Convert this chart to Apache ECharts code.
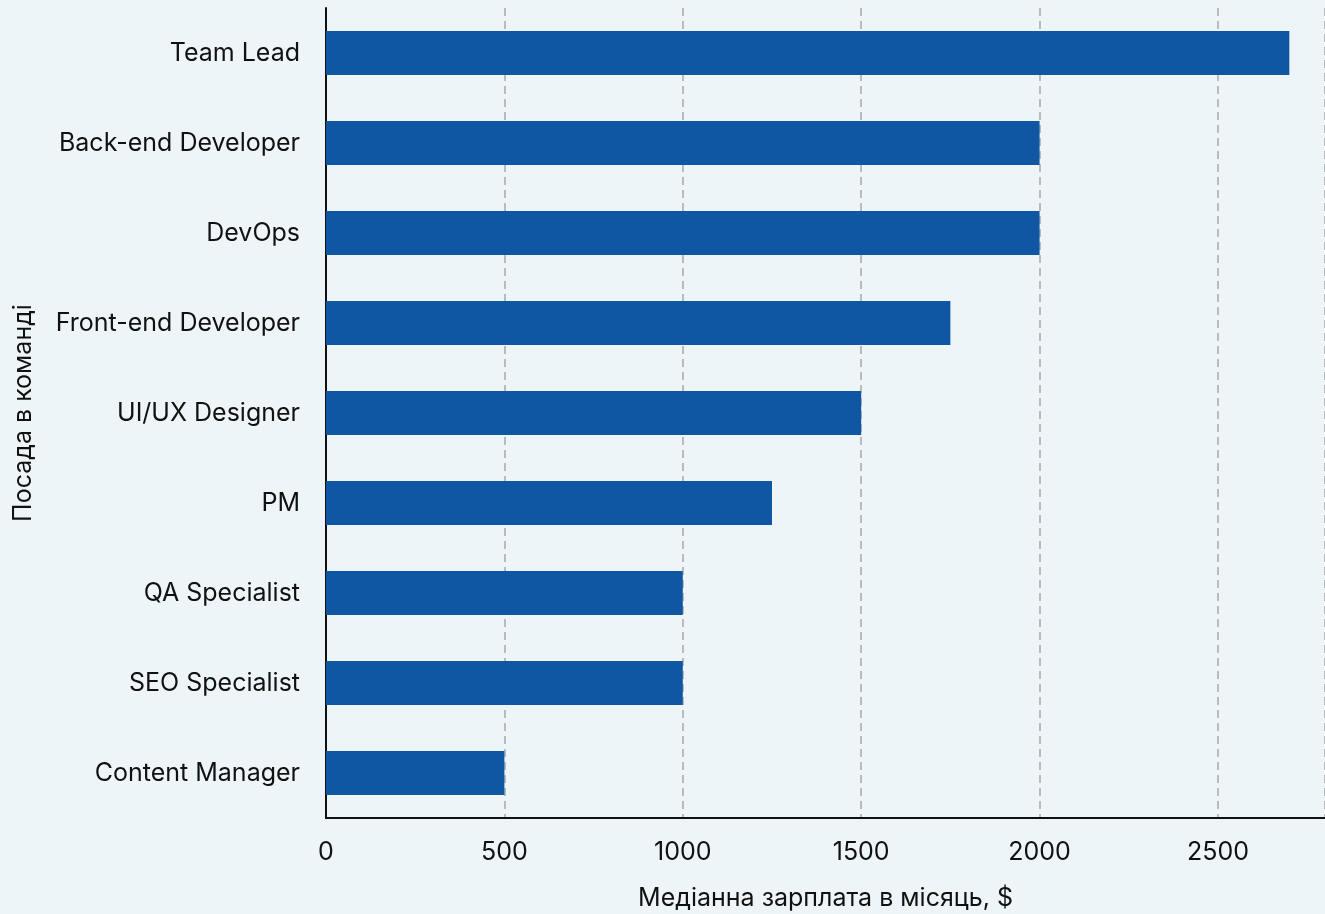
<!DOCTYPE html>
<html>
<head>
<meta charset="utf-8">
<script src="https://cdn.jsdelivr.net/npm/echarts@6/dist/echarts.min.js"></script>
<style>
  html, body { margin: 0; padding: 0; background: #eef5f8; }
  #chart { width: 1325px; height: 914px; }
</style>
</head>
<body>
<div id="chart"></div>
<script>
const positions = ['Team Lead', 'Back-end Developer', 'DevOps', 'Front-end Developer', 'UI/UX Designer', 'PM', 'QA Specialist', 'SEO Specialist', 'Content Manager']
const medianSalary = [2700, 2000, 2000, 1750, 1500, 1250, 1000, 1000, 500]

const font = 'Inter, "Noto Sans", sans-serif'
const chart = echarts.init(document.getElementById('chart'))

const option = {
  backgroundColor: '#eef5f8',
  textStyle: { fontFamily: font },
  grid: { left: 326, right: 0, top: 8, bottom: 96, containLabel: false, outerBoundsMode: 'none' },
  xAxis: {
    type: 'value', min: 0, max: 2800, interval: 500,
    name: 'Медіанна зарплата в місяць, $',
    nameLocation: 'middle', nameGap: 68,
    nameTextStyle: { fontSize: 25, color: '#111', fontFamily: font },
    axisLine: { show: true, lineStyle: { color: '#111', width: 2 } },
    axisTick: { show: false },
    axisLabel: {
      fontSize: 25, color: '#111', margin: 22, showMaxLabel: false, fontFamily: font,
      formatter: v => String(v)
    },
    splitLine: { show: true, lineStyle: { color: '#a8a8a8', type: [8, 5], width: 1.5 } }
  },
  yAxis: {
    type: 'category', inverse: true, data: positions,
    name: 'Посада в команді',
    nameLocation: 'middle', nameGap: 290, nameRotate: 90,
    nameTextStyle: { fontSize: 25, color: '#111', fontFamily: font },
    axisLine: { show: true, lineStyle: { color: '#111', width: 2 } },
    axisTick: { show: false },
    axisLabel: { fontSize: 25, color: '#111', margin: 26, fontFamily: font, padding: [4, 0, 0, 0] }
  },
  series: [{
    type: 'bar', data: medianSalary,
    barWidth: 44,
    itemStyle: { color: '#0f57a3' }
  }]
}
chart.setOption(option)
</script>
</body>
</html>
